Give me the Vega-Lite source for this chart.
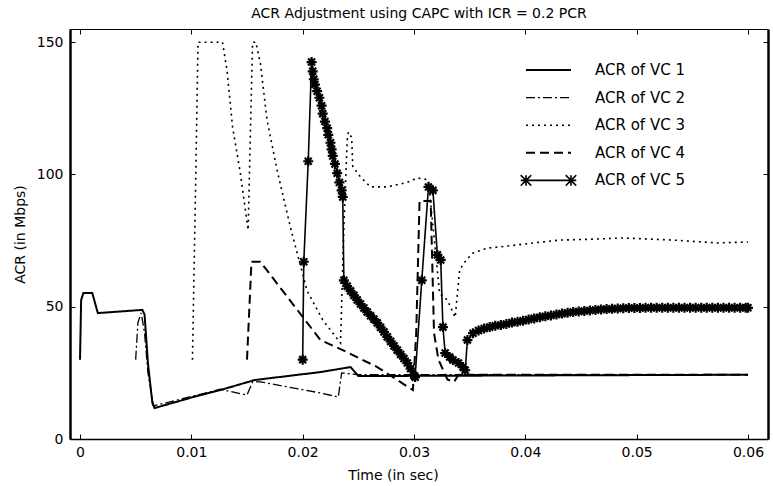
{
 "$schema": "https://vega.github.io/schema/vega-lite/v6.json",
 "width": 698,
 "height": 410,
 "autosize": {"type": "none"},
 "padding": {"left": 70, "top": 29, "right": 5, "bottom": 47},
 "background": "white",
 "title": {"text": "ACR Adjustment using CAPC with ICR = 0.2 PCR", "font": "DejaVu Sans", "fontSize": 14, "fontWeight": "normal", "color": "black", "anchor": "middle", "offset": 8, "baseline": "bottom", "dy": 14},
 "config": {"view": {"stroke": null}, "font": "DejaVu Sans"},
 "datasets": {
  "acr": [
   {"s":"ACR of VC 1","t":0,"v":30},{"s":"ACR of VC 1","t":0.0001,"v":52.5},{"s":"ACR of VC 1","t":0.0003,"v":55.2},{"s":"ACR of VC 1","t":0.0011,"v":55.2},{"s":"ACR of VC 1","t":0.0016,"v":47.6},{"s":"ACR of VC 1","t":0.0056,"v":48.8},{"s":"ACR of VC 1","t":0.0058,"v":47},{"s":"ACR of VC 1","t":0.0061,"v":28.7},{"s":"ACR of VC 1","t":0.0065,"v":13.6},{"s":"ACR of VC 1","t":0.0067,"v":11.7},{"s":"ACR of VC 1","t":0.0102,"v":15.9},{"s":"ACR of VC 1","t":0.0126,"v":18.5},{"s":"ACR of VC 1","t":0.0157,"v":22.3},{"s":"ACR of VC 1","t":0.0216,"v":25.3},{"s":"ACR of VC 1","t":0.0243,"v":27.2},{"s":"ACR of VC 1","t":0.025,"v":23.8},{"s":"ACR of VC 1","t":0.06,"v":24.3},
   {"s":"ACR of VC 2","t":0.005,"v":30},{"s":"ACR of VC 2","t":0.0052,"v":44},{"s":"ACR of VC 2","t":0.0055,"v":47.6},{"s":"ACR of VC 2","t":0.0058,"v":40},{"s":"ACR of VC 2","t":0.0061,"v":25},{"s":"ACR of VC 2","t":0.0066,"v":12.5},{"s":"ACR of VC 2","t":0.0126,"v":18.8},{"s":"ACR of VC 2","t":0.015,"v":16.6},{"s":"ACR of VC 2","t":0.0155,"v":21.6},{"s":"ACR of VC 2","t":0.0162,"v":21.6},{"s":"ACR of VC 2","t":0.0216,"v":17.4},{"s":"ACR of VC 2","t":0.0232,"v":15.9},{"s":"ACR of VC 2","t":0.0235,"v":25},{"s":"ACR of VC 2","t":0.025,"v":24.3},{"s":"ACR of VC 2","t":0.06,"v":24.3},
   {"s":"ACR of VC 3","t":0.0101,"v":30},{"s":"ACR of VC 3","t":0.0104,"v":100},{"s":"ACR of VC 3","t":0.0106,"v":150},{"s":"ACR of VC 3","t":0.0128,"v":150},{"s":"ACR of VC 3","t":0.0132,"v":139.5},{"s":"ACR of VC 3","t":0.0137,"v":118},{"s":"ACR of VC 3","t":0.0144,"v":100.6},{"s":"ACR of VC 3","t":0.0151,"v":79},{"s":"ACR of VC 3","t":0.0153,"v":115},{"s":"ACR of VC 3","t":0.0155,"v":150},{"s":"ACR of VC 3","t":0.0158,"v":150},{"s":"ACR of VC 3","t":0.0162,"v":142},{"s":"ACR of VC 3","t":0.0168,"v":120.6},{"s":"ACR of VC 3","t":0.0177,"v":101.7},{"s":"ACR of VC 3","t":0.0189,"v":80},{"s":"ACR of VC 3","t":0.0204,"v":56},{"s":"ACR of VC 3","t":0.0218,"v":45},{"s":"ACR of VC 3","t":0.0234,"v":36.3},{"s":"ACR of VC 3","t":0.0237,"v":80},{"s":"ACR of VC 3","t":0.024,"v":113},{"s":"ACR of VC 3","t":0.0241,"v":116},{"s":"ACR of VC 3","t":0.0244,"v":114},{"s":"ACR of VC 3","t":0.0245,"v":103},{"s":"ACR of VC 3","t":0.0252,"v":99},{"s":"ACR of VC 3","t":0.0261,"v":95.3},{"s":"ACR of VC 3","t":0.0276,"v":95.3},{"s":"ACR of VC 3","t":0.0294,"v":97},{"s":"ACR of VC 3","t":0.0303,"v":98.7},{"s":"ACR of VC 3","t":0.0313,"v":98},{"s":"ACR of VC 3","t":0.0316,"v":85},{"s":"ACR of VC 3","t":0.0323,"v":55},{"s":"ACR of VC 3","t":0.033,"v":52.5},{"s":"ACR of VC 3","t":0.0337,"v":46},{"s":"ACR of VC 3","t":0.0341,"v":64},{"s":"ACR of VC 3","t":0.0347,"v":67.7},{"s":"ACR of VC 3","t":0.0353,"v":70.3},{"s":"ACR of VC 3","t":0.0366,"v":72.2},{"s":"ACR of VC 3","t":0.0377,"v":72.6},{"s":"ACR of VC 3","t":0.0407,"v":74.1},{"s":"ACR of VC 3","t":0.0431,"v":75.2},{"s":"ACR of VC 3","t":0.0465,"v":75.6},{"s":"ACR of VC 3","t":0.0488,"v":76},{"s":"ACR of VC 3","t":0.0533,"v":75.2},{"s":"ACR of VC 3","t":0.0573,"v":74.1},{"s":"ACR of VC 3","t":0.06,"v":74.5},
   {"s":"ACR of VC 4","t":0.015,"v":30},{"s":"ACR of VC 4","t":0.0154,"v":67},{"s":"ACR of VC 4","t":0.0162,"v":67},{"s":"ACR of VC 4","t":0.0216,"v":37.4},{"s":"ACR of VC 4","t":0.0236,"v":33.6},{"s":"ACR of VC 4","t":0.0267,"v":27.2},{"s":"ACR of VC 4","t":0.0299,"v":18.5},{"s":"ACR of VC 4","t":0.0302,"v":40},{"s":"ACR of VC 4","t":0.0305,"v":90},{"s":"ACR of VC 4","t":0.0315,"v":90},{"s":"ACR of VC 4","t":0.0318,"v":40},{"s":"ACR of VC 4","t":0.0322,"v":30},{"s":"ACR of VC 4","t":0.033,"v":22.5},{"s":"ACR of VC 4","t":0.0336,"v":21.6},{"s":"ACR of VC 4","t":0.034,"v":24.3},{"s":"ACR of VC 4","t":0.06,"v":24.3},
   {"s":"ACR of VC 5","t":0.02,"v":30},{"s":"ACR of VC 5","t":0.0201,"v":67},{"s":"ACR of VC 5","t":0.0205,"v":105},{"s":"ACR of VC 5","t":0.0208,"v":142.5},{"s":"ACR of VC 5","t":0.0209,"v":139},{"s":"ACR of VC 5","t":0.021,"v":136},{"s":"ACR of VC 5","t":0.0211,"v":134},{"s":"ACR of VC 5","t":0.0213,"v":131.5},{"s":"ACR of VC 5","t":0.0215,"v":129},{"s":"ACR of VC 5","t":0.0217,"v":126},{"s":"ACR of VC 5","t":0.0218,"v":123},{"s":"ACR of VC 5","t":0.022,"v":120},{"s":"ACR of VC 5","t":0.0222,"v":117.5},{"s":"ACR of VC 5","t":0.0223,"v":115},{"s":"ACR of VC 5","t":0.0225,"v":112},{"s":"ACR of VC 5","t":0.0226,"v":109.5},{"s":"ACR of VC 5","t":0.0227,"v":107},{"s":"ACR of VC 5","t":0.0229,"v":104},{"s":"ACR of VC 5","t":0.0231,"v":100.5},{"s":"ACR of VC 5","t":0.0233,"v":97},{"s":"ACR of VC 5","t":0.0235,"v":94},{"s":"ACR of VC 5","t":0.0236,"v":91.5},{"s":"ACR of VC 5","t":0.0237,"v":60},{"s":"ACR of VC 5","t":0.024,"v":57.8},{"s":"ACR of VC 5","t":0.0243,"v":56},{"s":"ACR of VC 5","t":0.0246,"v":54.3},{"s":"ACR of VC 5","t":0.0249,"v":52.6},{"s":"ACR of VC 5","t":0.0252,"v":51},{"s":"ACR of VC 5","t":0.0255,"v":49.5},{"s":"ACR of VC 5","t":0.0258,"v":48},{"s":"ACR of VC 5","t":0.0261,"v":46.6},{"s":"ACR of VC 5","t":0.0264,"v":45.3},{"s":"ACR of VC 5","t":0.0267,"v":43.9},{"s":"ACR of VC 5","t":0.027,"v":42.2},{"s":"ACR of VC 5","t":0.0273,"v":40.5},{"s":"ACR of VC 5","t":0.0276,"v":38.6},{"s":"ACR of VC 5","t":0.0279,"v":36.9},{"s":"ACR of VC 5","t":0.0282,"v":35.2},{"s":"ACR of VC 5","t":0.0285,"v":33.6},{"s":"ACR of VC 5","t":0.0288,"v":32},{"s":"ACR of VC 5","t":0.0291,"v":30.4},{"s":"ACR of VC 5","t":0.0294,"v":28.7},{"s":"ACR of VC 5","t":0.0297,"v":26.6},{"s":"ACR of VC 5","t":0.03,"v":24},{"s":"ACR of VC 5","t":0.0301,"v":23.4},{"s":"ACR of VC 5","t":0.0307,"v":60},{"s":"ACR of VC 5","t":0.0313,"v":95.3},{"s":"ACR of VC 5","t":0.0317,"v":94},{"s":"ACR of VC 5","t":0.0321,"v":69.6},{"s":"ACR of VC 5","t":0.0324,"v":67.7},{"s":"ACR of VC 5","t":0.0326,"v":42.3},{"s":"ACR of VC 5","t":0.0328,"v":32.5},{"s":"ACR of VC 5","t":0.0332,"v":31},{"s":"ACR of VC 5","t":0.0335,"v":29.9},{"s":"ACR of VC 5","t":0.034,"v":28.7},{"s":"ACR of VC 5","t":0.0344,"v":27.2},{"s":"ACR of VC 5","t":0.0346,"v":26},{"s":"ACR of VC 5","t":0.0348,"v":37.4},{"s":"ACR of VC 5","t":0.0353,"v":40},{"s":"ACR of VC 5","t":0.0358,"v":41},{"s":"ACR of VC 5","t":0.0363,"v":41.8},{"s":"ACR of VC 5","t":0.0368,"v":42.3},{"s":"ACR of VC 5","t":0.0373,"v":42.8},{"s":"ACR of VC 5","t":0.0378,"v":43.1},{"s":"ACR of VC 5","t":0.0383,"v":43.5},{"s":"ACR of VC 5","t":0.0388,"v":44},{"s":"ACR of VC 5","t":0.0393,"v":44.3},{"s":"ACR of VC 5","t":0.0398,"v":44.7},{"s":"ACR of VC 5","t":0.0403,"v":45.2},{"s":"ACR of VC 5","t":0.0408,"v":45.6},{"s":"ACR of VC 5","t":0.0413,"v":46},{"s":"ACR of VC 5","t":0.0418,"v":46.4},{"s":"ACR of VC 5","t":0.0423,"v":46.7},{"s":"ACR of VC 5","t":0.0428,"v":47.1},{"s":"ACR of VC 5","t":0.0433,"v":47.4},{"s":"ACR of VC 5","t":0.0438,"v":47.7},{"s":"ACR of VC 5","t":0.0443,"v":48},{"s":"ACR of VC 5","t":0.0448,"v":48.2},{"s":"ACR of VC 5","t":0.0453,"v":48.4},{"s":"ACR of VC 5","t":0.0458,"v":48.6},{"s":"ACR of VC 5","t":0.0463,"v":48.8},{"s":"ACR of VC 5","t":0.0468,"v":49},{"s":"ACR of VC 5","t":0.0473,"v":49.1},{"s":"ACR of VC 5","t":0.0478,"v":49.2},{"s":"ACR of VC 5","t":0.0483,"v":49.3},{"s":"ACR of VC 5","t":0.0488,"v":49.4},{"s":"ACR of VC 5","t":0.0493,"v":49.5},{"s":"ACR of VC 5","t":0.0498,"v":49.5},{"s":"ACR of VC 5","t":0.0503,"v":49.5},{"s":"ACR of VC 5","t":0.0508,"v":49.6},{"s":"ACR of VC 5","t":0.0513,"v":49.6},{"s":"ACR of VC 5","t":0.0518,"v":49.6},{"s":"ACR of VC 5","t":0.0523,"v":49.6},{"s":"ACR of VC 5","t":0.0528,"v":49.6},{"s":"ACR of VC 5","t":0.0533,"v":49.6},{"s":"ACR of VC 5","t":0.0538,"v":49.6},{"s":"ACR of VC 5","t":0.0543,"v":49.6},{"s":"ACR of VC 5","t":0.0548,"v":49.6},{"s":"ACR of VC 5","t":0.0553,"v":49.6},{"s":"ACR of VC 5","t":0.0558,"v":49.6},{"s":"ACR of VC 5","t":0.0563,"v":49.6},{"s":"ACR of VC 5","t":0.0568,"v":49.6},{"s":"ACR of VC 5","t":0.0573,"v":49.6},{"s":"ACR of VC 5","t":0.0578,"v":49.6},{"s":"ACR of VC 5","t":0.0583,"v":49.6},{"s":"ACR of VC 5","t":0.0588,"v":49.6},{"s":"ACR of VC 5","t":0.0593,"v":49.6},{"s":"ACR of VC 5","t":0.0598,"v":49.6},{"s":"ACR of VC 5","t":0.06,"v":49.6}
  ]
 },
 "data": {"name": "acr"},
 "layer": [
  {
   "mark": {"type": "line", "color": "black", "strokeCap": "butt", "strokeJoin": "miter"},
   "encoding": {
    "x": {"field": "t", "type": "quantitative", "scale": {"domain": [-0.0009, 0.0618], "nice": false, "zero": false},
          "axis": {"orient": "bottom", "values": [0, 0.01, 0.02, 0.03, 0.04, 0.05, 0.06], "format": "~g", "grid": false, "tickSize": -5, "tickColor": "black", "tickWidth": 1, "domainColor": "black", "domainWidth": 1.5, "labelFont": "DejaVu Sans", "labelFontSize": 14, "labelColor": "black", "labelPadding": 11, "labelFlush": false, "labelOverlap": false, "title": "Time (in sec)", "titleFont": "DejaVu Sans", "titleFontSize": 14, "titleFontWeight": "normal", "titleColor": "black", "titleX": 323, "titleY": 40, "titleBaseline": "alphabetic", "titleAlign": "center"}},
    "y": {"field": "v", "type": "quantitative", "scale": {"domain": [0, 155], "nice": false, "zero": false},
          "axis": {"orient": "left", "values": [0, 50, 100, 150], "grid": false, "tickSize": -5, "tickColor": "black", "tickWidth": 1, "domainColor": "black", "domainWidth": 2.5, "labelFont": "DejaVu Sans", "labelFontSize": 14, "labelColor": "black", "labelPadding": 12, "labelFlush": false, "labelOverlap": false, "title": "ACR (in Mbps)", "titleFont": "DejaVu Sans", "titleFontSize": 14, "titleFontWeight": "normal", "titleColor": "black", "titleX": -50, "titleY": 205, "titleAngle": 270, "titleBaseline": "middle", "titleAlign": "center"}},
    "strokeDash": {"field": "s", "type": "nominal",
      "scale": {"domain": ["ACR of VC 1", "ACR of VC 2", "ACR of VC 3", "ACR of VC 4", "ACR of VC 5"], "range": [[1, 0], [9, 3, 2, 3], [2, 4], [9, 5], [1, 0]]},
      "legend": {"title": null, "orient": "none", "legendX": 470, "legendY": 32.5, "padding": 0, "symbolType": "M-3,0H3", "symbolSize": 225, "symbolStrokeColor": "black", "symbolFillColor": "transparent", "symbolStrokeWidth": 1.5, "labelFont": "DejaVu Sans", "labelFontSize": 15, "labelColor": "black", "labelOffset": 38, "rowPadding": 10.6,
        "encode": {"symbols": {"update": {
          "shape": {"signal": "datum.value === 'ACR of VC 5' ? 'M-3,0H3M-3.7,-0.7L-2.3,0.7M-3.7,0.7L-2.3,-0.7M-3.7,0H-2.3M-3,-0.7V0.7M2.3,-0.7L3.7,0.7M2.3,0.7L3.7,-0.7M2.3,0H3.7M3,-0.7V0.7' : 'M-3,0H3'"},
          "strokeWidth": {"signal": "datum.value === 'ACR of VC 1' || datum.value === 'ACR of VC 4' ? 2.5 : datum.value === 'ACR of VC 5' ? 2 : 1.3"}}}}}},
    "strokeWidth": {"field": "s", "type": "nominal",
      "scale": {"type": "ordinal", "domain": ["ACR of VC 1", "ACR of VC 2", "ACR of VC 3", "ACR of VC 4", "ACR of VC 5"], "range": [2, 1.3, 1.6, 2, 1.6]},
      "legend": null}
   }
  },
  {
   "transform": [{"filter": "datum.s === 'ACR of VC 5'"}],
   "mark": {"type": "point", "shape": "M-1,0L1,0M0,-1L0,1M-0.7,-0.7L0.7,0.7M-0.7,0.7L0.7,-0.7", "size": 100, "stroke": "black", "strokeWidth": 2.2, "filled": false, "opacity": 1},
   "encoding": {
    "x": {"field": "t", "type": "quantitative", "axis": {"orient": "top", "values": [0, 0.01, 0.02, 0.03, 0.04, 0.05, 0.06], "labels": false, "title": null, "grid": false, "tickSize": -5, "tickColor": "black", "domainColor": "black", "domainWidth": 1.2}},
    "y": {"field": "v", "type": "quantitative", "axis": {"orient": "right", "values": [0, 50, 100, 150], "labels": false, "title": null, "grid": false, "tickSize": -5, "tickColor": "black", "domainColor": "black", "domainWidth": 2.5}}
   }
  }
 ],
 "resolve": {"axis": {"x": "independent", "y": "independent"}}
}
